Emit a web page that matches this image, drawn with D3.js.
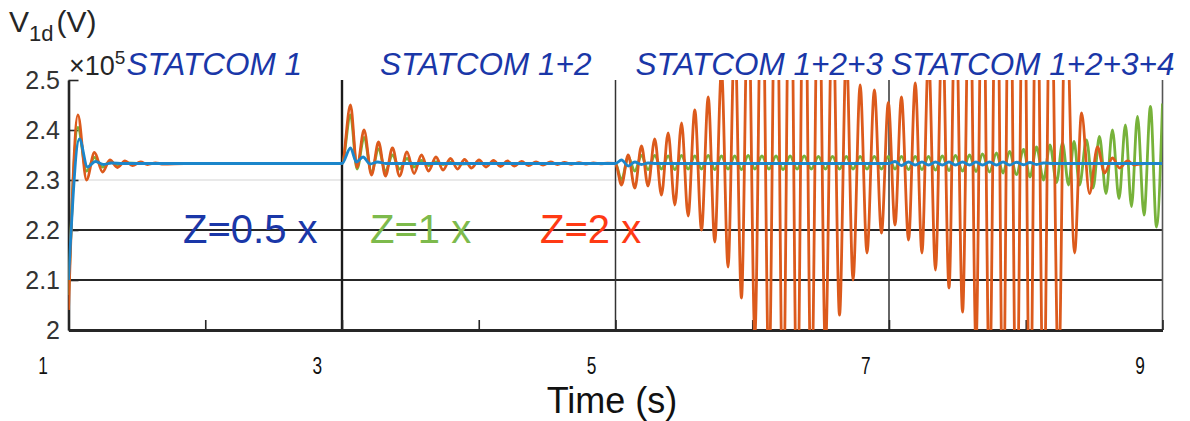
<!DOCTYPE html>
<html>
<head>
<meta charset="utf-8">
<script src="https://cdn.jsdelivr.net/npm/d3@7"></script>
<style>
  html, body { margin: 0; padding: 0; background: #fff; }
  svg { display: block; }
  text { font-family: "Liberation Sans", Arial, Helvetica, sans-serif; }
</style>
</head>
<body>
<svg id="chart" width="1190" height="421"></svg>
<script>
// ---- data: [time (s), V1d (x10^5 V)] at each turning point ----
// Z = 0.5 x
const seriesZ05 = [
  [1.000, 2.100], [1.080, 2.382], [1.139, 2.326], [1.197, 2.337], [1.256, 2.331], [1.314, 2.334], [1.400, 2.333], [3.000, 2.333],
  [3.062, 2.364], [3.105, 2.336], [3.154, 2.346], [3.205, 2.332], [3.260, 2.336], [3.320, 2.333], [5.000, 2.333],
  [5.044, 2.340], [5.093, 2.328], [5.141, 2.336], [5.190, 2.331], [5.238, 2.334], [5.300, 2.333], [7.000, 2.333],
  [7.044, 2.337], [7.091, 2.329], [7.143, 2.336], [7.192, 2.330], [7.241, 2.336], [7.289, 2.330], [7.340, 2.336],
  [7.390, 2.330], [7.439, 2.336], [7.486, 2.330], [7.538, 2.336], [7.589, 2.330], [7.636, 2.336], [7.684, 2.330],
  [7.735, 2.336], [7.786, 2.330], [7.834, 2.336], [7.881, 2.330], [7.932, 2.3355], [7.984, 2.3305], [8.031, 2.335],
  [8.079, 2.331], [8.130, 2.334], [8.200, 2.333], [9.000, 2.333]
];

// Z = 1 x
const seriesZ1 = [
  [1.000, 2.070], [1.069, 2.405], [1.132, 2.318], [1.190, 2.345], [1.249, 2.326], [1.303, 2.337], [1.358, 2.330],
  [1.413, 2.334], [1.527, 2.333], [3.000, 2.333],
  [3.062, 2.430], [3.110, 2.322], [3.161, 2.385], [3.216, 2.316], [3.267, 2.362], [3.318, 2.318], [3.369, 2.350],
  [3.421, 2.322], [3.475, 2.343], [3.527, 2.326], [3.581, 2.339], [3.633, 2.329], [3.687, 2.336], [3.739, 2.331],
  [3.793, 2.335], [3.845, 2.332], [3.950, 2.333], [5.000, 2.333],
  [5.044, 2.300], [5.093, 2.346], [5.141, 2.318], [5.190, 2.349], [5.238, 2.321], [5.287, 2.349], [5.336, 2.322],
  [5.385, 2.348], [5.434, 2.321], [5.483, 2.349], [5.531, 2.322], [5.580, 2.348], [5.629, 2.322], [5.678, 2.349],
  [5.726, 2.321], [5.775, 2.348], [5.823, 2.322], [5.872, 2.348], [5.921, 2.321], [5.970, 2.349], [6.019, 2.322],
  [6.071, 2.348], [6.122, 2.322], [6.174, 2.348], [6.225, 2.321], [6.277, 2.348], [6.328, 2.322], [6.380, 2.348],
  [6.432, 2.322], [6.484, 2.347], [6.535, 2.322], [6.587, 2.347], [6.638, 2.322], [6.688, 2.347], [6.737, 2.322],
  [6.789, 2.347], [6.839, 2.322], [6.893, 2.347], [6.945, 2.322], [6.995, 2.347],
  [7.044, 2.322], [7.091, 2.347], [7.143, 2.321], [7.192, 2.347], [7.241, 2.321], [7.289, 2.347], [7.340, 2.320],
  [7.390, 2.348], [7.439, 2.319], [7.486, 2.349], [7.538, 2.318], [7.589, 2.350], [7.636, 2.317], [7.684, 2.352],
  [7.735, 2.316], [7.786, 2.354], [7.834, 2.314], [7.881, 2.357], [7.932, 2.311], [7.984, 2.361], [8.031, 2.306],
  [8.079, 2.366], [8.130, 2.300], [8.177, 2.370], [8.225, 2.295], [8.269, 2.374], [8.313, 2.290], [8.353, 2.377],
  [8.393, 2.290], [8.444, 2.380], [8.492, 2.284], [8.539, 2.387], [8.587, 2.273], [8.634, 2.400], [8.682, 2.263],
  [8.729, 2.410], [8.773, 2.247], [8.817, 2.427], [8.865, 2.230], [8.912, 2.447], [8.956, 2.206], [9.000, 2.453]
];

// Z = 2 x
const seriesZ2 = [
  [1.000, 2.040], [1.069, 2.430], [1.132, 2.300], [1.190, 2.355], [1.249, 2.316], [1.303, 2.340], [1.358, 2.325],
  [1.413, 2.338], [1.468, 2.329], [1.527, 2.336], [1.578, 2.331], [1.636, 2.334], [1.695, 2.332], [1.848, 2.333],
  [3.000, 2.333],
  [3.062, 2.450], [3.110, 2.325], [3.161, 2.400], [3.216, 2.310], [3.267, 2.376], [3.318, 2.308], [3.369, 2.364],
  [3.421, 2.308], [3.475, 2.356], [3.527, 2.313], [3.581, 2.350], [3.633, 2.318], [3.687, 2.346], [3.739, 2.320],
  [3.793, 2.343], [3.845, 2.322], [3.896, 2.341], [3.947, 2.324], [4.002, 2.340], [4.053, 2.326], [4.108, 2.339],
  [4.159, 2.327], [4.210, 2.338], [4.261, 2.328], [4.313, 2.337], [4.364, 2.329], [4.419, 2.336], [4.470, 2.330],
  [4.525, 2.336], [4.576, 2.331], [4.627, 2.335], [4.678, 2.3315], [4.733, 2.3345], [4.784, 2.332], [4.839, 2.334],
  [4.890, 2.3325], [4.942, 2.3335], [5.000, 2.333],
  [5.044, 2.290], [5.093, 2.350], [5.141, 2.284], [5.190, 2.368], [5.238, 2.288], [5.287, 2.382], [5.336, 2.270],
  [5.385, 2.394], [5.434, 2.250], [5.483, 2.414], [5.531, 2.228], [5.580, 2.440], [5.629, 2.200], [5.678, 2.466],
  [5.726, 2.176], [5.775, 2.520], [5.823, 2.126], [5.872, 2.600], [5.921, 2.064], [5.970, 2.700], [6.019, 1.990],
  [6.071, 2.800], [6.122, 1.900], [6.174, 2.880], [6.225, 1.820], [6.277, 2.920], [6.328, 1.800], [6.380, 2.900],
  [6.432, 1.850], [6.484, 2.800], [6.535, 1.960], [6.587, 2.680], [6.638, 2.030], [6.688, 2.560], [6.737, 2.100],
  [6.789, 2.490], [6.839, 2.154], [6.893, 2.480], [6.945, 2.194], [6.995, 2.455],
  [7.044, 2.210], [7.091, 2.466], [7.143, 2.180], [7.192, 2.494], [7.241, 2.154], [7.289, 2.550], [7.340, 2.120],
  [7.390, 2.620], [7.439, 2.084], [7.486, 2.700], [7.538, 2.036], [7.589, 2.780], [7.636, 1.970], [7.684, 2.850],
  [7.735, 1.880], [7.786, 2.900], [7.834, 1.800], [7.881, 2.920], [7.932, 1.750], [7.984, 2.900], [8.031, 1.750],
  [8.079, 2.850], [8.130, 1.800], [8.181, 2.800], [8.240, 1.900], [8.291, 2.700], [8.357, 2.154], [8.408, 2.434],
  [8.466, 2.273], [8.525, 2.366], [8.576, 2.314], [8.634, 2.344], [8.686, 2.324], [8.744, 2.338], [8.795, 2.330],
  [8.868, 2.333], [9.000, 2.333]
];

// ---- axes, stages and labels ----
const xTicks = [1, 2, 3, 4, 5, 6, 7, 8, 9];
const xTickLabels = [1, 3, 5, 7, 9];
const yTicks = [2, 2.1, 2.2, 2.3, 2.4, 2.5];
const stageStarts = [1, 3, 5, 7, 9];
const stageNames = ["STATCOM 1", "STATCOM 1+2", "STATCOM 1+2+3", "STATCOM 1+2+3+4"];
const darkRefLevels = [2.1, 2.2];
const lightRefLevels = [2.3];
const legendNames = ["Z=0.5 x", "Z=1 x", "Z=2 x"];

// ---- drawing ----
const svg = d3.select("#chart");
const box = { left: 68.5, right: 1162.5, top: 80, bottom: 330 };

const x = d3.scaleLinear().domain([1, 9]).range([box.left, box.right]);
const y = d3.scaleLinear().domain([2, 2.5]).range([box.bottom, box.top]);
// tick numbers under the axis sit on their own scale
const xLabelPos = d3.scaleLinear().domain([1, 9]).range([43, 1140]);

const ink = "#262626";

// horizontal reference lines
svg.append("g").selectAll("line").data(lightRefLevels).join("line")
  .attr("x1", box.left).attr("x2", box.right)
  .attr("y1", d => y(d)).attr("y2", d => y(d))
  .attr("stroke", "#d4d4d4").attr("stroke-width", 1.2);
svg.append("g").selectAll("line").data(darkRefLevels).join("line")
  .attr("x1", box.left).attr("x2", box.right)
  .attr("y1", d => y(d)).attr("y2", d => y(d))
  .attr("stroke", ink).attr("stroke-width", 2.2);

// stage separators
svg.append("g").selectAll("line").data(stageStarts.slice(1, 4)).join("line")
  .attr("x1", d => x(d)).attr("x2", d => x(d))
  .attr("y1", box.top).attr("y2", box.bottom)
  .attr("stroke", (d, i) => i === 0 ? "#1a1a1a" : "#333")
  .attr("stroke-width", (d, i) => i === 0 ? 2.4 : 1.5);

// right frame edge
svg.append("line")
  .attr("x1", box.right).attr("x2", box.right)
  .attr("y1", box.top).attr("y2", box.bottom)
  .attr("stroke", "#555").attr("stroke-width", 1.6);

// left axis
const yAxis = svg.append("g")
  .attr("transform", `translate(${box.left},0)`)
  .call(d3.axisLeft(y).tickValues(yTicks).tickSize(-10).tickSizeOuter(0).tickPadding(8.5)
    .tickFormat(d => d === 2 ? "2" : d3.format(".1f")(d)));
yAxis.select(".domain").attr("stroke", ink).attr("stroke-width", 2.6);
yAxis.selectAll(".tick line").attr("stroke", ink).attr("stroke-width", 1.6);
yAxis.selectAll(".tick text").attr("fill", "#333").attr("font-size", 25)
  .style("font-family", "'Liberation Sans', Arial, sans-serif");

// bottom axis
const xAxis = svg.append("g")
  .attr("transform", `translate(0,${box.bottom})`)
  .call(d3.axisBottom(x).tickValues(xTicks).tickSize(-10).tickSizeOuter(0).tickFormat(() => ""));
xAxis.select(".domain").attr("stroke", ink).attr("stroke-width", 3);
xAxis.selectAll(".tick line").attr("stroke", ink).attr("stroke-width", 1.6);

// tick numbers, condensed
svg.append("g").selectAll("text").data(xTickLabels).join("text")
  .attr("transform", d => `translate(${xLabelPos(d)},374) scale(0.72,1)`)
  .attr("text-anchor", "middle")
  .attr("font-size", 24).attr("fill", "#111")
  .text(d => d);

// series
const clipId = "plot-clip";
svg.append("clipPath").attr("id", clipId).append("rect")
  .attr("x", box.left).attr("y", box.top)
  .attr("width", box.right - box.left).attr("height", box.bottom - box.top);

const line = d3.line().x(d => x(d[0])).y(d => y(d[1])).curve(d3.curveMonotoneX);
const seriesList = [
  { data: seriesZ1, color: "#77b23a" },
  { data: seriesZ2, color: "#dc5a1c" },
  { data: seriesZ05, color: "#1b86cb" }
];
const plotG = svg.append("g").attr("clip-path", `url(#${clipId})`);
plotG.selectAll("path").data(seriesList).join("path")
  .attr("d", d => line(d.data))
  .attr("fill", "none")
  .attr("stroke", d => d.color)
  .attr("stroke-width", 2.8)
  .attr("stroke-linejoin", "round");

// stage titles
const titleColor = "#1a37a8";
svg.append("g").selectAll("text").data(stageNames).join("text")
  .attr("x", (d, i) => (x(stageStarts[i]) + x(stageStarts[i + 1])) / 2 + (i === 0 ? 9 : 7))
  .attr("y", 75)
  .attr("text-anchor", "middle")
  .attr("font-size", 31.5).attr("font-style", "italic")
  .attr("fill", titleColor)
  .text(d => d);

// impedance labels
const legendColors = ["#1a37a8", "#7dba4c", "#ff3a14"];
const legendStart = [183, 370, 540];
svg.append("g").selectAll("text").data(legendNames).join("text")
  .attr("x", (d, i) => legendStart[i])
  .attr("y", 243)
  .attr("font-size", 40)
  .attr("fill", (d, i) => legendColors[i])
  .text(d => d);

// y-axis title with subscript
const yTitle = svg.append("text").attr("x", 9).attr("y", 32).attr("fill", ink).attr("font-size", 30);
yTitle.append("tspan").text("V");
yTitle.append("tspan").attr("font-size", 22).attr("dy", 9).text("1d");
yTitle.append("tspan").attr("dy", -9).attr("dx", 3).text("(V)");

// exponent marker
const expo = svg.append("text").attr("x", 69).attr("y", 75).attr("fill", ink).attr("font-size", 27);
expo.append("tspan").text("×10");
expo.append("tspan").attr("font-size", 19).attr("dy", -11).text("5");

// x-axis title
svg.append("text")
  .attr("x", 612).attr("y", 412.5)
  .attr("text-anchor", "middle")
  .attr("font-size", 36).attr("fill", "#111")
  .text("Time (s)");
</script>
</body>
</html>
